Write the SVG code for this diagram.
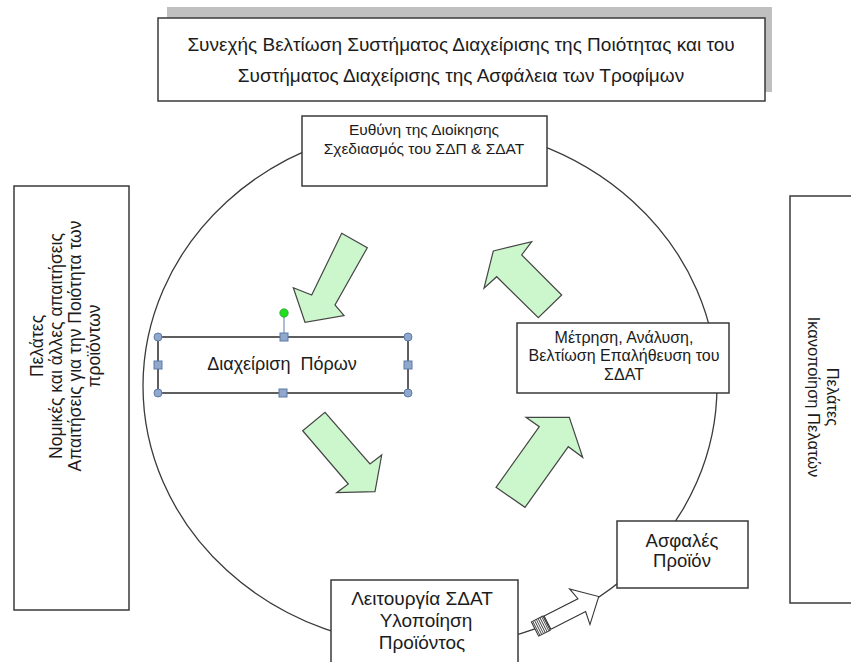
<svg xmlns="http://www.w3.org/2000/svg" width="851" height="662" viewBox="0 0 851 662">
  <style>
    .box { fill: #ffffff; stroke: #3a3a3a; stroke-width: 1.5; }
    .lbl { font-family: "Liberation Sans", Arial, sans-serif; fill: #1c1c1c; text-anchor: middle; }
    .cycle { fill: #ccf7cc; stroke: #454545; stroke-width: 1.2; stroke-linejoin: miter; }
    .hnd { fill: #8fa8cc; stroke: #5d7ba6; stroke-width: 1; }
  </style>

  <!-- cycle ring behind the boxes -->
  <g id="connectors">
    <ellipse cx="430" cy="386" rx="287" ry="261" fill="none" stroke="#3a3a3a" stroke-width="1.3"/>
  </g>

  <!-- title box with its offset shadow -->
  <g id="title">
    <rect x="167" y="7" width="605" height="85" fill="#c0c0c0"/>
    <rect class="box" x="158" y="18" width="607" height="83"/>
    <text class="lbl" font-size="19" x="461" y="51">Συνεχής Βελτίωση Συστήματος Διαχείρισης της Ποιότητας και του</text>
    <text class="lbl" font-size="19" x="461" y="82">Συστήματος Διαχείρισης της Ασφάλεια των Τροφίμων</text>
  </g>

  <g id="management">
    <rect class="box" x="302" y="116" width="245" height="70"/>
    <text class="lbl" font-size="15.5" x="424" y="135">Ευθύνη της Διοίκησης</text>
    <text class="lbl" font-size="15.5" x="424" y="154">Σχεδιασμός του ΣΔΠ &amp; ΣΔΑΤ</text>
  </g>

  <g id="requirements">
    <rect class="box" x="14" y="186" width="115" height="424"/>
    <text class="lbl" font-size="17.5" transform="rotate(-90 43 346)" x="43" y="346">Πελάτες</text>
    <text class="lbl" font-size="17.5" transform="rotate(-90 62 346)" x="62" y="346">Νομικές και άλλες απαιτήσεις</text>
    <text class="lbl" font-size="17.5" transform="rotate(-90 81 346)" x="81" y="346">Απαιτήσεις για την Ποιότητα των</text>
    <text class="lbl" font-size="17.5" transform="rotate(-90 100 346)" x="100" y="346">προϊόντων</text>
  </g>

  <g id="satisfaction">
    <rect class="box" x="790" y="196" width="80" height="407"/>
    <text class="lbl" font-size="16.5" transform="rotate(90 827 397)" x="827" y="397">Πελάτες</text>
    <text class="lbl" font-size="16.5" transform="rotate(90 808 397)" x="808" y="397">Ικανοποίηση Πελατών</text>
  </g>

  <g id="resources">
    <rect x="158" y="337" width="250" height="56" fill="#ffffff" stroke="#2a2a2a" stroke-width="1.5"/>
    <text class="lbl" font-size="18" x="282" y="370" xml:space="preserve">Διαχείριση  Πόρων</text>
    <!-- selection handles -->
    <line x1="284" y1="313" x2="284" y2="337" stroke="#5d7ba6" stroke-width="1"/>
    <circle cx="284" cy="313" r="4.2" fill="#1ee01e" stroke="#3aa03a" stroke-width="0.8"/>
    <circle class="hnd" cx="158" cy="337" r="4"/>
    <circle class="hnd" cx="408" cy="337" r="4"/>
    <circle class="hnd" cx="158" cy="393" r="4"/>
    <circle class="hnd" cx="408" cy="393" r="4"/>
    <rect class="hnd" x="280" y="333" width="8" height="8"/>
    <rect class="hnd" x="279" y="389" width="8" height="8"/>
    <rect class="hnd" x="154" y="361" width="8" height="8"/>
    <rect class="hnd" x="404" y="361" width="8" height="8"/>
  </g>

  <g id="measurement">
    <rect class="box" x="517" y="323" width="212" height="70"/>
    <text class="lbl" font-size="16" x="624" y="343">Μέτρηση, Ανάλυση,</text>
    <text class="lbl" font-size="16" x="624" y="361">Βελτίωση Επαλήθευση του</text>
    <text class="lbl" font-size="16" x="624" y="380">ΣΔΑΤ</text>
  </g>

  <g id="operation">
    <rect class="box" x="331" y="580" width="187" height="95"/>
    <text class="lbl" font-size="19" x="422" y="605">Λειτουργία ΣΔΑΤ</text>
    <text class="lbl" font-size="19" x="426" y="627">Υλοποίηση</text>
    <text class="lbl" font-size="19" x="422" y="649">Προϊόντος</text>
  </g>

  <g id="safe-product">
    <rect class="box" x="617" y="521" width="131" height="67"/>
    <text class="lbl" font-size="18.5" x="682" y="547">Ασφαλές</text>
    <text class="lbl" font-size="18.5" x="682" y="567">Προϊόν</text>
  </g>

  <!-- cycle direction arrows -->
  <g id="cycle-arrows">
    <polygon class="cycle" points="341.7,233.3 367.3,247.7 335,305 344,315.7 305,322.3 293.3,287.7 311.7,295"/>
    <polygon class="cycle" points="302.7,430.7 325,412.3 370,464 381.7,455 375,491.7 336.7,492.7 348.3,484"/>
    <polygon class="cycle" points="496,487.3 525,507.3 568.3,446.7 582.7,457.3 569.3,417.3 526,417.3 539.3,426.7"/>
    <polygon class="cycle" points="493.3,251 531.7,241.7 521.7,255 561.7,295 538.3,317.7 496.7,276.7 484,288.3"/>
  </g>

  <!-- striped arrow from operation to safe product -->
  <g id="striped-arrow" transform="translate(535 629) rotate(-27)">
    <rect x="0" y="-8" width="13" height="16" fill="#ffffff" stroke="#333" stroke-width="1"/>
    <g stroke="#444" stroke-width="0.9">
      <line x1="1.5" y1="-8" x2="1.5" y2="8"/>
      <line x1="3.5" y1="-8" x2="3.5" y2="8"/>
      <line x1="5.5" y1="-8" x2="5.5" y2="8"/>
      <line x1="7.5" y1="-8" x2="7.5" y2="8"/>
      <line x1="9.5" y1="-8" x2="9.5" y2="8"/>
      <line x1="11.5" y1="-8" x2="11.5" y2="8"/>
    </g>
    <polygon points="14,-7.5 52,-7.5 49,-20 71.5,0 51,21 53,7.5 14,7.5" fill="#ffffff" stroke="#333" stroke-width="1.1"/>
  </g>
</svg>
